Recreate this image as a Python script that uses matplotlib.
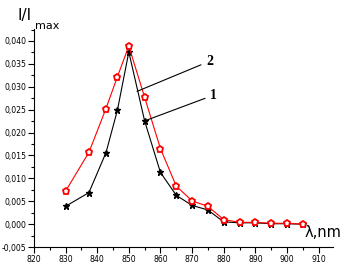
import matplotlib
matplotlib.use("Agg")
import matplotlib.pyplot as plt
from matplotlib.ticker import MultipleLocator, FuncFormatter

wl_black = [830, 837.4, 842.8, 846.4, 850, 855, 860, 865, 870, 875, 880, 885, 890, 895, 900, 905]
curve1 = [0.0039, 0.0069, 0.01565, 0.0249, 0.0376, 0.02255, 0.0113, 0.0063, 0.0041, 0.0031,
          0.0005, 0.0003, 0.0003, 0.0001, 0.0001, 0.0000]
wl_red = [830, 837.4, 842.7, 846.4, 850, 855, 860, 865, 870, 875, 880, 885, 890, 895, 900, 905]
curve2 = [0.0072, 0.0157, 0.0251, 0.0322, 0.0389, 0.0277, 0.0165, 0.0083, 0.0051, 0.0039,
          0.0010, 0.0004, 0.0004, 0.0002, 0.0002, 0.0000]

fig = plt.figure(figsize=(3.46, 2.77), dpi=100)
ax = fig.add_axes([0.098, 0.108, 0.864, 0.787])

ax.plot(wl_black, curve1, color="black", lw=0.8, marker="*", ms=5, zorder=2)
ax.plot(wl_red, curve2, color="red", lw=0.8, marker="p", ms=4.5, mfc="white",
        mec="red", mew=1.3, zorder=3)

ax.set_xlim(820, 914.5)
ax.set_ylim(-0.005, 0.0426)
ax.spines["top"].set_visible(False)
ax.spines["right"].set_visible(False)
ax.xaxis.set_major_locator(MultipleLocator(10))
ax.xaxis.set_minor_locator(MultipleLocator(5))
ax.yaxis.set_major_locator(MultipleLocator(0.005))
ax.yaxis.set_minor_locator(MultipleLocator(0.0025))
ax.tick_params(which="major", length=4, width=0.8, labelsize=5.6, direction="out", pad=2)
ax.tick_params(axis="y", which="major", pad=1.2)
ax.tick_params(which="minor", length=2, width=0.8, direction="out")
ax.yaxis.set_major_formatter(FuncFormatter(lambda v, p: ("%.3f" % v).replace(".", ",")))

# annotations
ax.annotate("2", xy=(852.6, 0.0290), xytext=(874.5, 0.0356), fontsize=10, fontweight="bold",
            family="Liberation Serif", va="center", ha="left",
            arrowprops=dict(arrowstyle="-", lw=0.8, color="black", shrinkB=0, shrinkA=2))
ax.annotate("1", xy=(854.8, 0.0225), xytext=(875.8, 0.0282), fontsize=10, fontweight="bold",
            family="Liberation Serif", va="center", ha="left",
            arrowprops=dict(arrowstyle="-", lw=0.8, color="black", shrinkB=0, shrinkA=2))

fig.text(0.05, 0.943, "I/I", fontsize=11, ha="left", va="center")
fig.text(0.101, 0.905, "max", fontsize=8, ha="left", va="center")
fig.text(0.88, 0.16, "\u03bb,nm", fontsize=10.5, ha="left", va="center")

fig.savefig("out.png", dpi=100)
